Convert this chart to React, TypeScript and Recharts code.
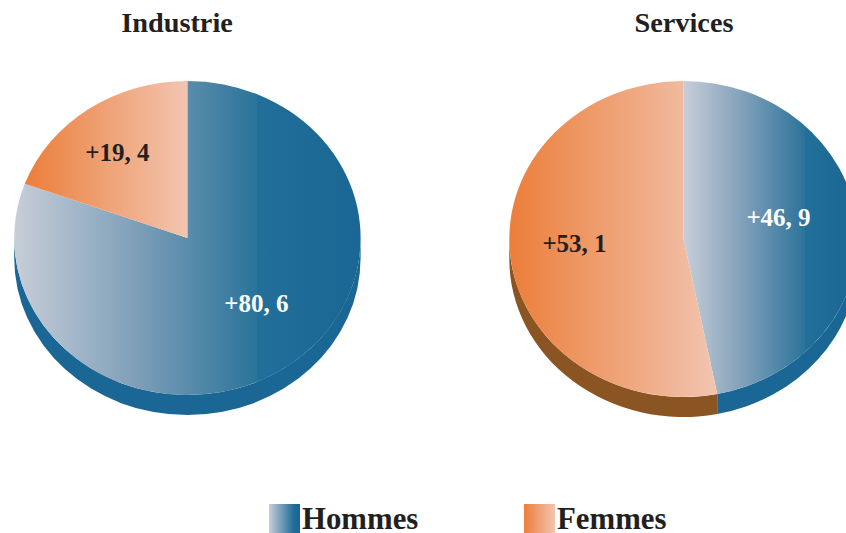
import React from 'react';
import { PieChart, Pie, Legend } from 'recharts';

const SERIES = ['Hommes', 'Femmes'];
const INDUSTRIE_VALUES = [80.6, 19.4];
const SERVICES_VALUES = [46.9, 53.1];
const INDUSTRIE_LABELS = ['+80, 6', '+19, 4'];
const SERVICES_LABELS = ['+46, 9', '+53, 1'];

const FONT = '"Liberation Serif", serif';
const INK = '#231f20';
const DEPTH = 20;
const SQUASH = 0.907; // the pies are drawn as flattened discs

const styles: Record<string, any> = {
  Hommes: { face: 'url(#faceHommes)', wall: '#1a6694', text: '#ffffff', swatch: 'url(#swatchHommes)' },
  Femmes: { face: 'url(#faceFemmes)', wall: '#8b5523', text: INK, swatch: 'url(#swatchFemmes)' },
};

const toRows = (values: number[], labels: string[]) =>
  values.map((value, i) => ({ name: SERIES[i], value, label: labels[i] }));

const industrie = toRows(INDUSTRIE_VALUES, INDUSTRIE_LABELS);
const services = toRows(SERVICES_VALUES, SERVICES_LABELS);

const point = (cx: number, cy: number, r: number, deg: number) => {
  const a = (deg * Math.PI) / 180;
  return [cx + r * Math.cos(a), cy - r * SQUASH * Math.sin(a)];
};

// flattened sector, plus the visible part of the rim below it
const DiscSlice = (props: any) => {
  const { cx, cy, outerRadius: r, startAngle, endAngle, name } = props;
  const ry = r * SQUASH;
  const [x0, y0] = point(cx, cy, r, startAngle);
  const [x1, y1] = point(cx, cy, r, endAngle);
  const large = Math.abs(startAngle - endAngle) > 180 ? 1 : 0;
  const face = `M${cx},${cy} L${x0},${y0} A${r},${ry} 0 ${large} 1 ${x1},${y1} Z`;

  const wallFrom = Math.min(startAngle, 0);
  const wallTo = Math.max(endAngle, -180);
  let wall = '';
  if (wallFrom > wallTo) {
    const [a0, b0] = point(cx, cy, r, wallFrom);
    const [a1, b1] = point(cx, cy, r, wallTo);
    wall =
      `M${a0},${b0} A${r},${ry} 0 0 1 ${a1},${b1} L${a1},${b1 + DEPTH} ` +
      `A${r},${ry} 0 0 0 ${a0},${b0 + DEPTH} Z`;
  }
  return (
    <g>
      {wall && <path d={wall} fill={styles[name].wall} />}
      <path d={face} fill={styles[name].face} />
    </g>
  );
};

const labelAt = (offsets: Record<string, number[]>) => (props: any) => {
  const { cx, cy, name, payload } = props;
  const [dx, dy] = offsets[name];
  return (
    <text
      x={cx + dx}
      y={cy + dy}
      textAnchor="middle"
      dominantBaseline="central"
      fontFamily={FONT}
      fontWeight="bold"
      fontSize={25}
      fill={styles[name].text}
    >
      {payload.label}
    </text>
  );
};

const LegendRow = () => (
  <svg width={846} height={533} style={{ display: 'block' }}>
    {SERIES.map((name, i) => {
      const x = 269 + i * 255;
      return (
        <g key={name}>
          <rect x={x} y={504} width={31} height={29} fill={styles[name].swatch} />
          <text x={x + 33} y={529} fontFamily={FONT} fontWeight="bold" fontSize={30.8} fill={INK}>
            {name}
          </text>
        </g>
      );
    })}
  </svg>
);

const Gradients = () => (
  <svg width={0} height={0} style={{ position: 'absolute' }}>
    <defs>
      <linearGradient id="faceHommes" x1="0" x2="1" y1="0" y2="0">
        <stop offset="0" stopColor="#c7ced8" />
        <stop offset="0.35" stopColor="#7f9fb9" />
        <stop offset="0.7" stopColor="#2a7399" />
        <stop offset="0.7" stopColor="#226f9a" />
        <stop offset="1" stopColor="#1a6694" />
      </linearGradient>
      <linearGradient id="faceFemmes" x1="0" x2="1" y1="0" y2="0">
        <stop offset="0" stopColor="#ec7e3a" />
        <stop offset="1" stopColor="#f2c5b1" />
      </linearGradient>
      <linearGradient id="swatchHommes" x1="0" x2="1" y1="0" y2="0">
        <stop offset="0" stopColor="#c7ced8" />
        <stop offset="0.8" stopColor="#1f6c98" />
        <stop offset="1" stopColor="#1a6694" />
      </linearGradient>
      <linearGradient id="swatchFemmes" x1="0" x2="1" y1="0" y2="0">
        <stop offset="0" stopColor="#ec7e3a" />
        <stop offset="1" stopColor="#f2c5b1" />
      </linearGradient>
    </defs>
  </svg>
);

const titleProps = {
  y: 32,
  textAnchor: 'middle' as const,
  fontFamily: FONT,
  fontWeight: 'bold',
  fontSize: 28.3,
  fill: INK,
};

export default function App() {
  return (
    <div style={{ position: 'absolute', left: 0, top: 0, width: 846, height: 533, overflow: 'hidden', background: '#fff' }}>
      <Gradients />
      <PieChart width={846} height={533} margin={{ top: 0, right: 0, bottom: 0, left: 0 }}>
        <text x={177} {...titleProps}>Industrie</text>
        <text x={684} {...titleProps}>Services</text>
        <Pie
          data={industrie}
          dataKey="value"
          nameKey="name"
          cx={187.4}
          cy={238}
          outerRadius={173.2}
          startAngle={90}
          endAngle={-270}
          stroke="none"
          shape={DiscSlice}
          label={labelAt({ Hommes: [69, 65], Femmes: [-70, -86] })}
          labelLine={false}
          isAnimationActive={false}
        />
        <Pie
          data={services}
          dataKey="value"
          nameKey="name"
          cx={683.5}
          cy={239}
          outerRadius={174.2}
          startAngle={90}
          endAngle={-270}
          stroke="none"
          shape={DiscSlice}
          label={labelAt({ Hommes: [95, -22], Femmes: [-109, 4] })}
          labelLine={false}
          isAnimationActive={false}
        />
        <Legend
          content={<LegendRow />}
          wrapperStyle={{ left: 0, top: 0, width: 846, height: 533, pointerEvents: 'none' }}
        />
      </PieChart>
    </div>
  );
}
